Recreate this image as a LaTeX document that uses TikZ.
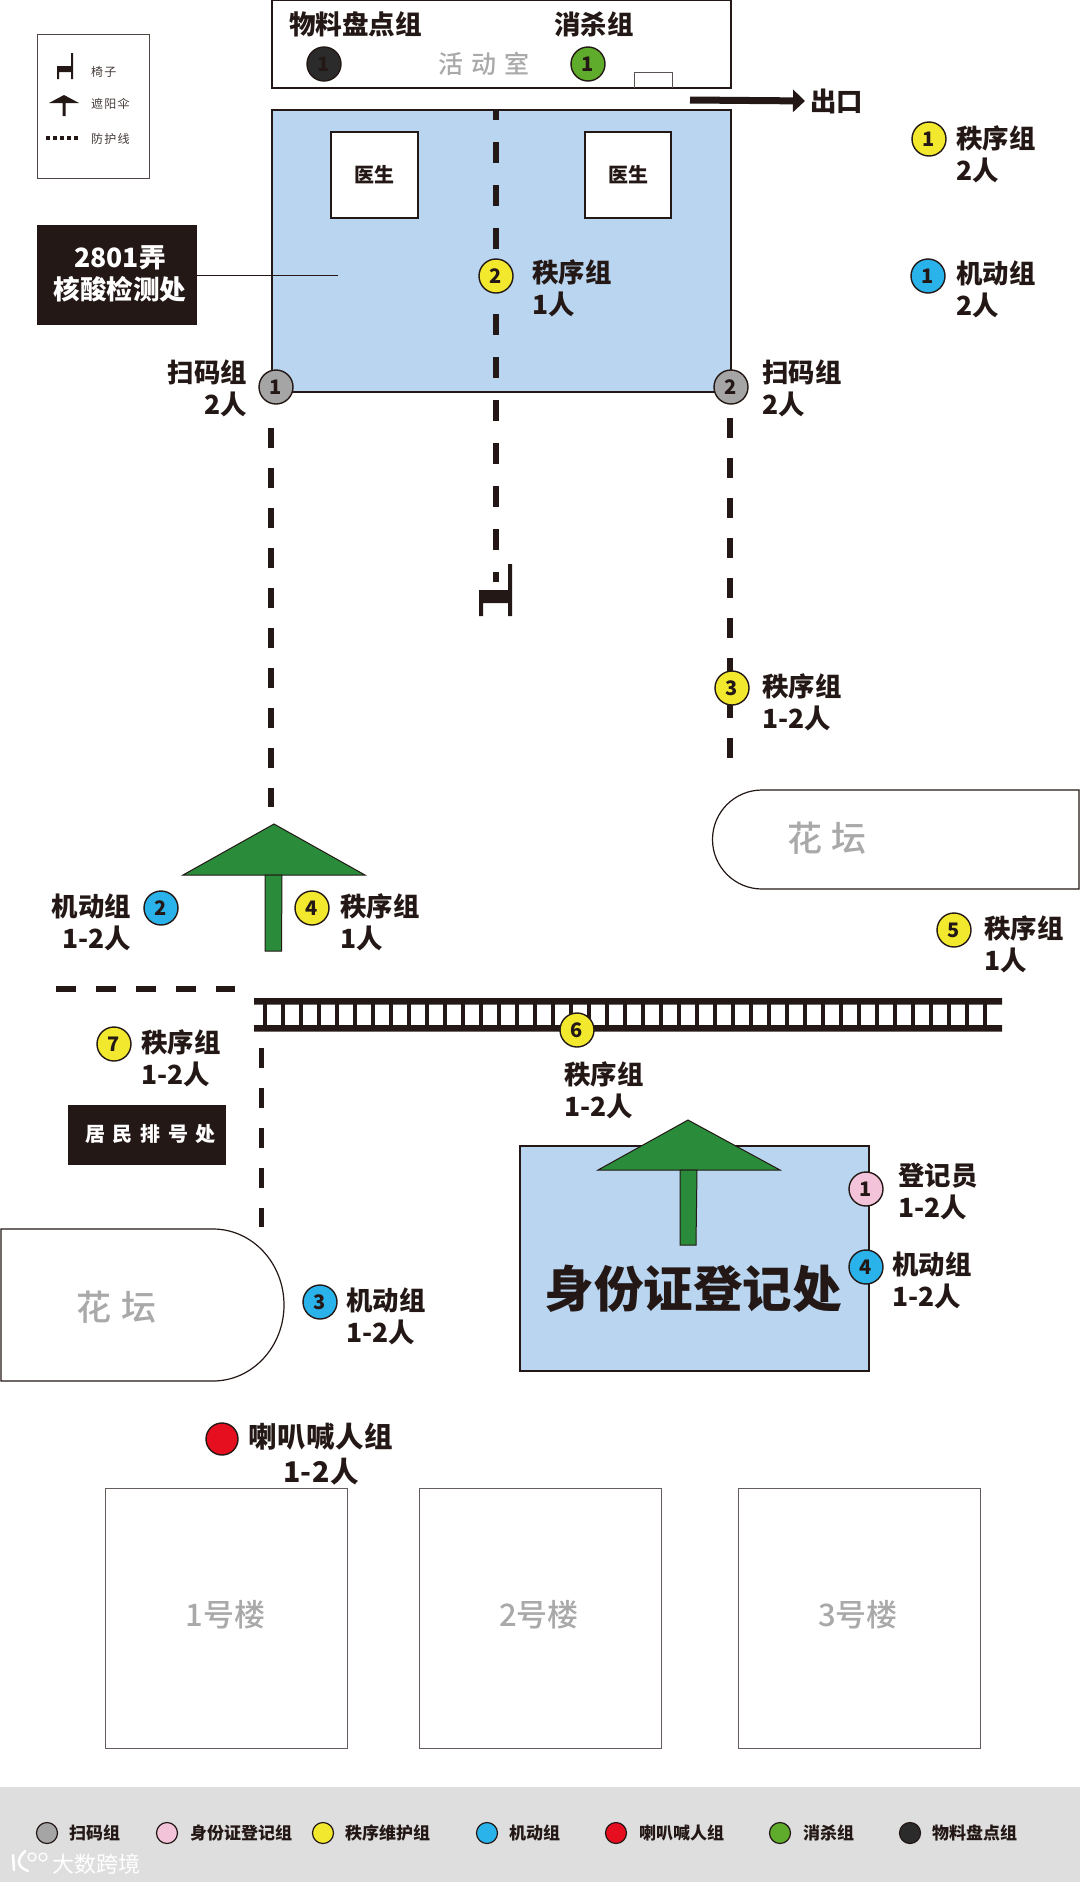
\documentclass[tikz,border=0pt]{standalone}
\usepackage{fontspec}
\usepackage{tikz}
\usetikzlibrary{arrows.meta}
\setmainfont{Noto Sans CJK SC}
\newfontfamily\medfont{Noto Sans CJK SC Medium}
\definecolor{ccInk}{HTML}{231815}
\definecolor{ccRoom}{HTML}{B9D5EF}
\definecolor{ccShade}{HTML}{2A8B3B}
\definecolor{ccGray}{HTML}{A5A5A5}
\definecolor{ccPink}{HTML}{F2C3D9}
\definecolor{ccYellow}{HTML}{F2E92F}
\definecolor{ccBlue}{HTML}{29B3EA}
\definecolor{ccRed}{HTML}{E60F20}
\definecolor{ccGreen}{HTML}{5FAB2B}
\definecolor{ccBlack}{HTML}{2B2B2B}
\definecolor{ccBand}{HTML}{DEDEDE}
\definecolor{ccLabel}{HTML}{A9A9A9}
\tikzset{
  badge/.style={circle,draw=ccInk,line width=1.4pt,minimum size=34pt,inner sep=0pt,text=ccInk,font=\fontsize{20}{20}\selectfont\bfseries},
  crew/.style={align=left,inner sep=0pt,text=ccInk,font=\fontsize{26.4}{32}\selectfont\bfseries},
  crewr/.style={crew,align=right},
  room/.style={draw=ccInk,line width=1.3pt},
  guard/.style={ccInk,line width=5.5pt,dash pattern=on 20pt off 20pt},
  place/.style={text=ccLabel,font=\medfont\fontsize{31}{31}\selectfont},
  spaced/.style={text=ccLabel,font=\medfont\fontsize{35}{35}\selectfont\addfontfeature{LetterSpace=26}},
  keytext/.style={anchor=west,inner sep=0pt,text=ccInk!85,font=\fontsize{12}{12}\selectfont\addfontfeature{LetterSpace=10}},
  bandtext/.style={anchor=west,inner sep=0pt,text=ccInk,font=\fontsize{17}{17}\selectfont\bfseries},
  sign/.style={fill=ccInk,inner sep=0pt},
}
\begin{document}
\begin{tikzpicture}[x=1pt,y=-1pt]
\useasboundingbox (0,0) rectangle (1080,1882);
% activity room
\draw[room] (272,0) rectangle (731,88);
\draw[room,line width=1pt,draw=ccInk!75] (634,88) -- (634,72) -- (672,72) -- (672,88);
\node[crew,font=\fontsize{26.6}{26}\selectfont\bfseries] (stockname) at (355.5,24) {物料盘点组};
\node[crew,font=\fontsize{26.4}{26}\selectfont\bfseries] (killname) at (594,24) {消杀组};
\node[badge,fill=ccBlack] (stockA) at (324,64) {1};
\node[badge,fill=ccGreen] (killA) at (588,64) {1};
\node[spaced,font=\medfont\fontsize{25}{25}\selectfont\addfontfeature{LetterSpace=32}] (activity) at (483.6,64) {活动室};
% test area
\draw[room,fill=ccRoom] (272,110) rectangle (731,392);
\draw[room,fill=white] (331,132) rectangle (418,218);
\draw[room,fill=white] (585,132) rectangle (671,218);
\node[crew,font=\fontsize{20}{20}\selectfont\bfseries] (doctorA) at (374.5,175) {医生};
\node[crew,font=\fontsize{20}{20}\selectfont\bfseries] (doctorB) at (628,175) {医生};
% symbol key
\draw[draw=ccInk!80,line width=1pt] (37,34) rectangle (149,178);
\fill[ccInk] (71,53) rectangle (73,79) (57,66) rectangle (73,72) (57,66) rectangle (59,79);
\fill[ccInk] (64,95) -- (79,103) -- (49,103) -- cycle (62.5,103) rectangle (65.5,116);
\draw[ccInk,line width=3.5pt,dash pattern=on 4pt off 3pt] (46,138) -- (78,138);
\node[keytext] (keychair) at (91,72) {椅子};
\node[keytext] (keyshade) at (91,104) {遮阳伞};
\node[keytext] (keyline) at (91,139) {防护线};
% exit
\coordinate (exitstart) at (690,100);
\node[crew,anchor=west] (exitname) at (810,101) {出口};
\draw[ccInk,line width=7pt,shorten >=5pt,-{Triangle[length=12pt,width=22pt]}] (exitstart) -- (exitname.west);
% title of test area
\node[sign,minimum width=160pt,minimum height=100pt] (testname) at (117,275) {};
\node[inner sep=0pt,text=white,align=center,font=\fontsize{26.6}{32}\selectfont\bfseries] (testtext) at (120,274) {2801弄\\核酸检测处};
\coordinate (testpoint) at (338,275);
\draw[ccInk,line width=1pt] (testname.east) -- (testpoint);
% guard lines
\coordinate (midtop) at (496,110);
\coordinate (midend) at (496,582);
\draw[guard,dash pattern=on 21pt off 22pt,dash phase=11pt] (midtop) -- (midend);
\coordinate (lefttop) at (271,428);
\coordinate (leftend) at (271,807);
\draw[guard] (lefttop) -- (leftend);
\coordinate (righttop) at (730,418);
\coordinate (rightend) at (730,758);
\draw[guard] (righttop) -- (rightend);
\coordinate (quefront) at (56,989);
\coordinate (queback) at (235,989);
\draw[guard] (quefront) -- (queback);
\coordinate (quetop) at (261.5,1048);
\coordinate (queend) at (261.5,1227);
\draw[guard] (quetop) -- (queend);
% chair
\fill[ccInk] (508,564) rectangle (512,616) (479,590) rectangle (512,603) (479,590) rectangle (483,616);
% fence
\fill[ccInk] (254,998) rectangle (1002,1004.5) (254,1025) rectangle (1002,1031.5);
\foreach \i in {0,...,40} {
  \fill[ccInk] ({265+18*\i-1.7},1000) rectangle ({265+18*\i+1.7},1030);
}
% flower beds
\draw[room,line width=1.2pt,fill=white] (1079,790) -- (762,790) arc[start angle=-90,end angle=-270,radius=49.5] -- (1079,889) -- cycle;
\node[spaced] (bedA) at (827,838) {花坛};
\draw[room,line width=1.2pt,fill=white] (1,1229) -- (213,1229) arc[start angle=-90,end angle=90,x radius=71,y radius=76] -- (1,1381) -- cycle;
\node[spaced] (bedB) at (116.5,1307) {花坛};
% shades
\draw[ccInk,line width=1pt,fill=ccShade] (274,824) -- (365,875) -- (183,875) -- cycle;
\draw[ccInk,line width=1pt,fill=ccShade] (265,875) -- (282,875) -- (281.5,951) -- (265,951) -- cycle;
% id desk
\draw[room,fill=ccRoom] (520,1146) rectangle (869,1371);
\node[crew,font=\fontsize{49.5}{49}\selectfont\bfseries] (idname) at (693,1289) {身份证登记处};
\draw[ccInk,line width=1pt,fill=ccShade] (688,1120) -- (780,1170) -- (598,1170) -- cycle;
\draw[ccInk,line width=1pt,fill=ccShade] (680,1170) -- (697,1170) -- (696,1245) -- (680,1245) -- cycle;
% queue sign
\node[sign,minimum width=158pt,minimum height=60pt] (quename) at (147,1134.5) {};
\node[inner sep=0pt,text=white,font=\fontsize{20}{20}\selectfont\bfseries\addfontfeature{LetterSpace=38}] (quetext) at (150.5,1134) {居民排号处};
% crews
\node[badge,fill=ccYellow] (orderA) at (929,139) {1};
\node[crew,anchor=west] (orderAtext) at (956,154) {秩序组\\2人};
\node[badge,fill=ccBlue] (mobileA) at (928,276) {1};
\node[crew,anchor=west] (mobileAtext) at (956,289) {机动组\\2人};
\node[badge,fill=ccYellow] (orderB) at (496,276) {2};
\node[crew,anchor=west] (orderBtext) at (532,288) {秩序组\\1人};
\node[badge,fill=ccGray] (scanA) at (276,387) {1};
\node[crewr,anchor=east] (scanAtext) at (247,388) {扫码组\\2人};
\node[badge,fill=ccGray] (scanB) at (731,387) {2};
\node[crew,anchor=west] (scanBtext) at (762,388) {扫码组\\2人};
\node[badge,fill=ccYellow] (orderC) at (732,688) {3};
\node[crew,anchor=west] (orderCtext) at (762,702) {秩序组\\1-2人};
\node[badge,fill=ccBlue] (mobileB) at (161,908) {2};
\node[crewr,anchor=east] (mobileBtext) at (131,922) {机动组\\1-2人};
\node[badge,fill=ccYellow] (orderD) at (312,908) {4};
\node[crew,anchor=west] (orderDtext) at (340,922) {秩序组\\1人};
\node[badge,fill=ccYellow] (orderE) at (954,930) {5};
\node[crew,anchor=west] (orderEtext) at (984,944) {秩序组\\1人};
\node[badge,fill=ccYellow] (orderF) at (577,1030) {6};
\node[crew,anchor=west] (orderFtext) at (564,1090) {秩序组\\1-2人};
\node[badge,fill=ccYellow] (orderG) at (114,1044) {7};
\node[crew,anchor=west] (orderGtext) at (141,1058) {秩序组\\1-2人};
\node[badge,fill=ccBlue] (mobileC) at (320,1302) {3};
\node[crew,anchor=west] (mobileCtext) at (346,1316) {机动组\\1-2人};
\node[badge,fill=ccPink] (clerkA) at (866,1189) {1};
\node[crew,anchor=west] (clerkAtext) at (898,1191) {登记员\\1-2人};
\node[badge,fill=ccBlue] (mobileD) at (866,1267) {4};
\node[crew,anchor=west] (mobileDtext) at (892,1280) {机动组\\1-2人};
\node[badge,fill=ccRed,minimum size=32pt] (callA) at (222,1439) {};
\node[crew,align=center,font=\fontsize{28.5}{35}\selectfont\bfseries\addfontfeature{LetterSpace=2}] (callAtext) at (321,1454) {喇叭喊人组\\1-2人};
% buildings
\foreach \bx/\bname in {105.5/1,419/2,738/3} {
  \draw[draw=ccInk!70,line width=1pt] (\bx,1488) rectangle ({\bx+242},1748);
  \node[place] (house\bname) at ({\bx+120},1615) {\bname 号楼};
}
% bottom band
\fill[ccBand] (0,1787) rectangle (1080,1882);
\foreach \kx/\tx/\kcol/\ktext in {47/69/ccGray/扫码组,167/190/ccPink/身份证登记组,323/345/ccYellow/秩序维护组,487/509/ccBlue/机动组,616/639/ccRed/喇叭喊人组,780/803/ccGreen/消杀组,910/932/ccBlack/物料盘点组} {
  \node[circle,draw=ccInk,line width=1.2pt,fill=\kcol,minimum size=21pt,inner sep=0pt] (dot\kx) at (\kx,1833) {};
  \node[bandtext] (name\kx) at (\tx,1833) {\ktext};
}
% watermark
\draw[white,line width=2.5pt,line cap=round] (13,1855) -- (14,1870);
\draw[white,line width=2.5pt,line cap=round] (25,1851) .. controls (18,1858) and (15,1866) .. (28,1871);
\draw[white,line width=1.3pt] (32,1857) circle (4pt) (43,1857) circle (4pt);
\node[inner sep=0pt,text=white,font=\fontsize{22}{22}\selectfont] (markname) at (96,1864) {大数跨境};
\end{tikzpicture}
\end{document}
